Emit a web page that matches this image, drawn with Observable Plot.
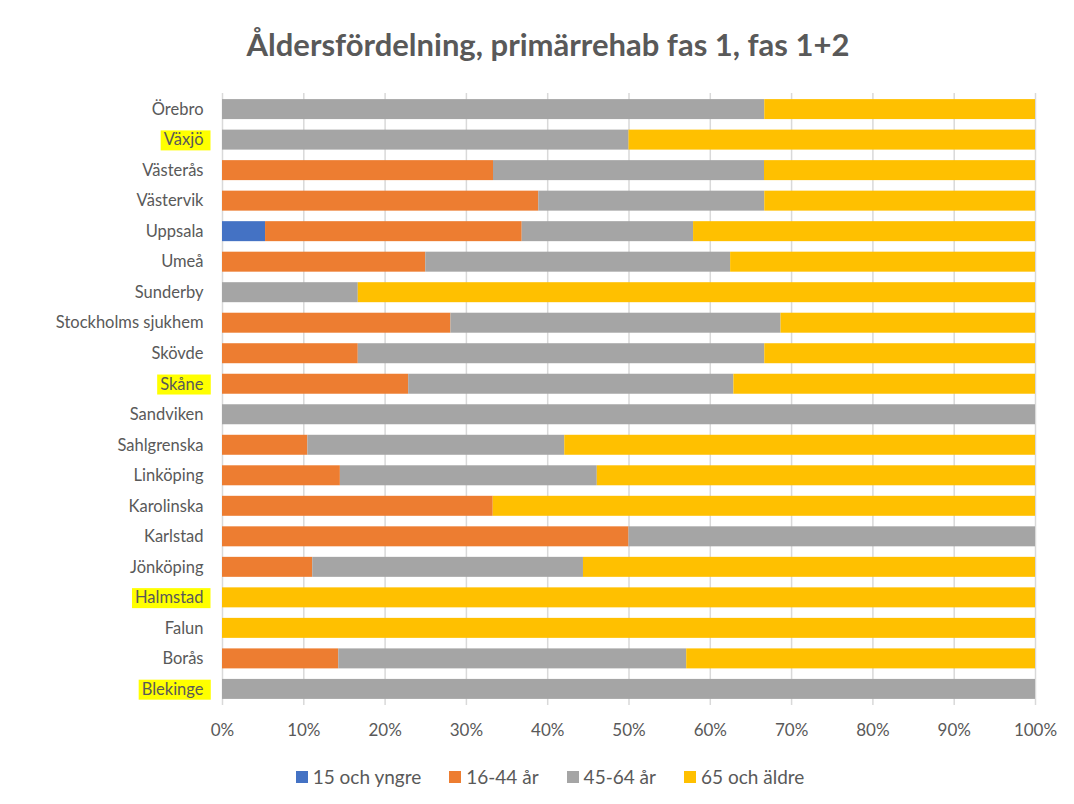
<!DOCTYPE html>
<html>
<head>
<meta charset="utf-8">
<script src="https://cdn.jsdelivr.net/npm/d3@7"></script>
<script src="https://cdn.jsdelivr.net/npm/@observablehq/plot@0.6"></script>
<style>
  html, body { margin: 0; padding: 0; background: #fff; }
  #wrap { position: relative; width: 1074px; height: 804px; font-family: Lato, "Open Sans", sans-serif; color: #595959; }
  #title { position: absolute; left: 11px; width: 1074px; top: 24px; text-align: center; font-size: 31px; font-weight: bold; line-height: 40px; color: #595959; }
  #chart { position: absolute; left: 0; top: 80px; }
  #legend { position: absolute; left: 13px; width: 1074px; top: 765px; display: flex; justify-content: center; font-size: 19px; line-height: 24px; }
  .item { display: flex; align-items: center; margin: 0 14px; }
  .sw { width: 12px; height: 12px; margin-right: 5px; }
</style>
</head>
<body>
<div id="wrap">
  <div id="title">Åldersfördelning, primärrehab fas 1, fas 1+2</div>
  <div id="chart"></div>
  <div id="legend"></div>
</div>
<script>
const categories = ["Örebro","Växjö","Västerås","Västervik","Uppsala","Umeå","Sunderby","Stockholms sjukhem","Skövde","Skåne","Sandviken","Sahlgrenska","Linköping","Karolinska","Karlstad","Jönköping","Halmstad","Falun","Borås","Blekinge"];
const highlighted = ["Växjö","Skåne","Halmstad","Blekinge"];
const seriesNames = ["15 och yngre","16-44 år","45-64 år","65 och äldre"];
const seriesColors = ["#4472C4","#ED7D31","#A5A5A5","#FFC000"];
const s15 = [0,0,0,0,5.3,0,0,0,0,0,0,0,0,0,0,0,0,0,0,0];
const s16 = [0,0,33.3,38.9,31.6,25,0,28.1,16.7,22.9,0,10.5,14.5,33.3,50,11.1,0,0,14.3,0];
const s45 = [66.7,50,33.3,27.8,21.1,37.5,16.7,40.6,50,40,100,31.6,31.6,0,50,33.3,0,0,42.8,100];
const s65 = [33.3,50,33.3,33.3,42.1,37.5,83.3,31.3,33.3,37.1,0,57.9,53.9,66.7,0,55.6,100,100,42.9,0];
const xTicks = [0,0.1,0.2,0.3,0.4,0.5,0.6,0.7,0.8,0.9,1];

const seriesValues = [s15, s16, s45, s65];
const rows = [];
categories.forEach((c, i) => {
  seriesNames.forEach((s, j) => rows.push({city: c, series: s, value: seriesValues[j][i]}));
});

const chart = Plot.plot({
  width: 1074,
  height: 670,
  marginLeft: 222,
  marginRight: 39,
  marginTop: 13,
  marginBottom: 45,
  style: {fontFamily: "Lato, 'Open Sans', sans-serif", fontSize: "16px", color: "#595959", background: "#fff"},
  x: {domain: [0, 1]},
  y: {domain: categories, paddingInner: 0.345, paddingOuter: 0.2, round: false},
  color: {domain: seriesNames, range: seriesColors},
  marks: [
    Plot.gridX(xTicks, {stroke: "#d9d9d9", strokeOpacity: 1, strokeWidth: 1.5}),
    Plot.barX(rows, Plot.stackX({x: "value", y: "city", fill: "series", offset: "normalize", order: null})),
    Plot.axisX({ticks: xTicks, tickSize: 0, tickPadding: 18, tickFormat: d => Math.round(d * 100) + "%", fill: "#595959", fontSize: 17, label: null}),
    Plot.axisY({tickSize: 0, tickPadding: 19, fill: "#595959", fontSize: 16.5, label: null})
  ]
});
document.getElementById("chart").appendChild(chart);

// Highlight marker behind selected labels
chart.querySelectorAll("text").forEach(t => {
  const label = t.textContent;
  if (highlighted.includes(label)) {
    const b = t.getBBox();
    const r = document.createElementNS("http://www.w3.org/2000/svg", "rect");
    r.setAttribute("x", b.x - 3);
    r.setAttribute("y", b.y + 1);
    r.setAttribute("width", b.width + 10);
    r.setAttribute("height", b.height);
    r.setAttribute("fill", "#FFFF00");
    const tr = t.getAttribute("transform");
    if (tr) r.setAttribute("transform", tr);
    t.parentNode.insertBefore(r, t);
  }
});

const legend = document.getElementById("legend");
seriesNames.forEach((s, i) => {
  const it = document.createElement("div");
  it.className = "item";
  it.innerHTML = `<div class="sw" style="background:${seriesColors[i]}"></div><span>${s}</span>`;
  legend.appendChild(it);
});
</script>
</body>
</html>
